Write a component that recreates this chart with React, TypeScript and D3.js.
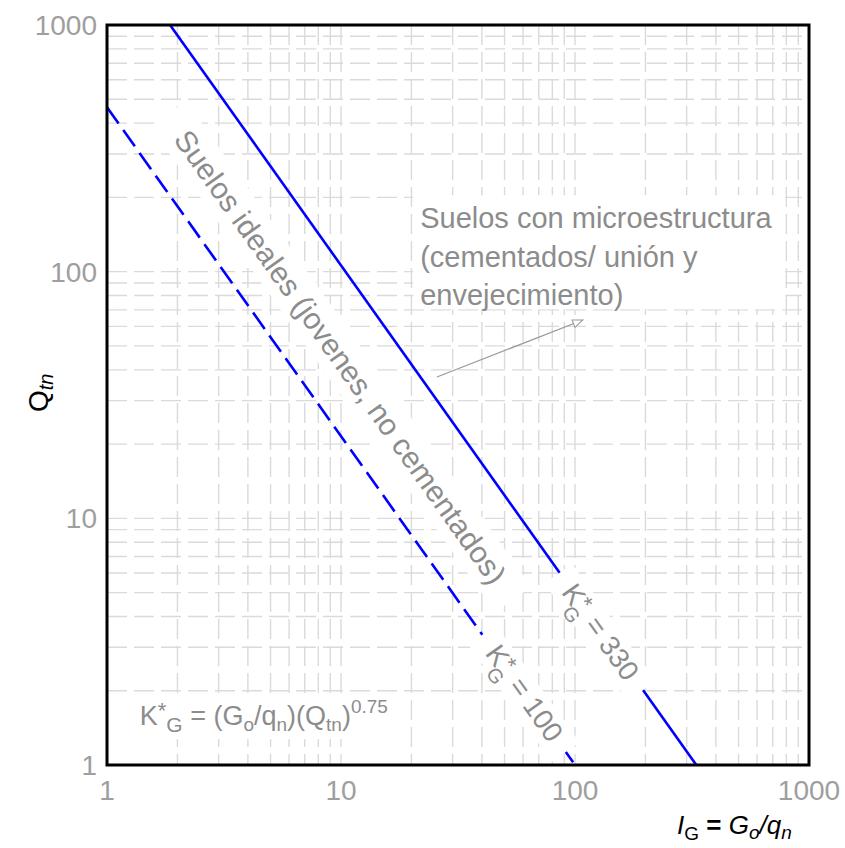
import React from 'react';
import * as d3 from 'd3';

const W = 845;
const H = 848;
const margin = { top: 25, right: 36, bottom: 83, left: 107 };

const X_TICKS = [1, 10, 100, 1000];
const Y_TICKS = [1, 10, 100, 1000];

// KG* lines, [IG, Qtn] end points (straight on log-log)
const K330_LINE: [number, number][] = [[1.86, 1000], [330, 1]];
const K100_LINE: [number, number][] = [[1, 464], [100, 1]];

// label anchors in data units [IG, Qtn]
const K330_LABEL: [number, number] = [128, 3.45];
const K100_LABEL: [number, number] = [60.5, 1.95];
const IDEAL_LABEL: [number, number] = [9.9, 45];
const MICRO_LABEL: [number, number] = [21.8, 150];
const MICRO_LINES = ['Suelos con microestructura', '(cementados/ unión y', 'envejecimiento)'];
const ARROW: [number, number][] = [[25.7, 37.4], [108, 63.7]];
const FORMULA_LABEL: [number, number] = [1.38, 1.45];

const GREY = '#9e9e9e';
const TEXT_GREY = '#8c8c8c';
const GRID = '#dadada';
const FONT = '"Liberation Sans", Arial, sans-serif';
const NARROW = '"Liberation Sans Narrow", "Liberation Sans", Arial, sans-serif';

function App() {
  const iw = W - margin.left - margin.right;
  const ih = H - margin.top - margin.bottom;

  const x = d3.scaleLog().domain([1, 1000]).range([margin.left, margin.left + iw]);
  const y = d3.scaleLog().domain([1, 1000]).range([margin.top + ih, margin.top]);

  const gridX = x.ticks();
  const gridY = y.ticks();

  const line = d3.line<[number, number]>().x(d => x(d[0])).y(d => y(d[1]));

  const angle = Math.atan2(y(K330_LINE[1][1]) - y(K330_LINE[0][1]), x(K330_LINE[1][0]) - x(K330_LINE[0][0])) * 180 / Math.PI;

  const kLabel = (pos: [number, number], val: string) => {
    const cx = x(pos[0]);
    const cy = y(pos[1]);
    return (
      <g transform={`translate(${cx},${cy}) rotate(${angle})`}>
        <rect x={-72} y={-17} width={144} height={34} fill="white" />
        <text x={0} y={9} textAnchor="middle" fontSize={28} fill={TEXT_GREY} fontFamily={FONT}>
          K<tspan dy={-6} fontSize={23}>*</tspan>
          <tspan dx={-11} dy={17} fontSize={20}>G</tspan>
          <tspan dy={-11}>{` = ${val}`}</tspan>
        </text>
      </g>
    );
  };

  const ix = x(IDEAL_LABEL[0]);
  const iy = y(IDEAL_LABEL[1]);
  const mx = x(MICRO_LABEL[0]);
  const my = y(MICRO_LABEL[1]);
  const fx = x(FORMULA_LABEL[0]);
  const fy = y(FORMULA_LABEL[1]);

  return (
    <svg width={W} height={H} style={{ position: 'absolute', left: 0, top: 0, background: 'white' }}>
      <defs>
        <marker id="arr" viewBox="0 0 12 10" refX={11} refY={5} markerWidth={12} markerHeight={10} markerUnits="userSpaceOnUse" orient="auto">
          <path d="M1,1 L11,5 L1,9 Z" fill="white" stroke="#999" strokeWidth={1} />
        </marker>
      </defs>

      {/* grid */}
      <g stroke={GRID} strokeWidth={1.4} strokeDasharray="20,7">
        {gridX.map(v => (
          <line key={'gx' + v} x1={x(v)} x2={x(v)} y1={margin.top} y2={margin.top + ih} />
        ))}
        {gridY.map(v => (
          <line key={'gy' + v} x1={margin.left} x2={margin.left + iw} y1={y(v)} y2={y(v)} />
        ))}
      </g>

      {/* white boxes behind annotations */}
      <rect x={mx - 7} y={my - 33} width={372} height={114} fill="white" />
      <g transform={`translate(${ix},${iy}) rotate(${angle})`}>
        <rect x={-298} y={-23} width={596} height={44} fill="white" />
      </g>
      <rect x={fx - 6} y={fy - 28} width={275} height={42} fill="white" />

      {/* KG* lines */}
      <path d={line(K330_LINE) || ''} fill="none" stroke="#0000ff" strokeWidth={2.6} />
      <path d={line(K100_LINE) || ''} fill="none" stroke="#0000ff" strokeWidth={2.6} strokeDasharray="20,8" />

      {kLabel(K330_LABEL, '330')}
      {kLabel(K100_LABEL, '100')}

      {/* ideal soils label */}
      <text
        transform={`translate(${ix},${iy}) rotate(${angle})`}
        x={0} y={10} textAnchor="middle" fontSize={30} fill={TEXT_GREY} fontFamily={FONT}
      >
        Suelos ideales (jovenes, no cementados)
      </text>

      {/* microstructure label */}
      <text fontSize={29} fill={TEXT_GREY} fontFamily={FONT}>
        {MICRO_LINES.map((t, i) => (
          <tspan key={t} x={mx} y={my + i * 38.5}>{t}</tspan>
        ))}
      </text>
      <path
        d={line(ARROW) || ''}
        stroke="#999" strokeWidth={1.2} fill="none" markerEnd="url(#arr)"
      />

      {/* formula */}
      <text x={fx} y={fy} fontSize={27} fill={TEXT_GREY} fontFamily={FONT}>
        K<tspan dy={-7} fontSize={22}>*</tspan>
        <tspan dy={14} fontSize={21}>G</tspan>
        <tspan dy={-7}>{' = (G'}</tspan>
        <tspan dy={6} fontSize={19}>o</tspan>
        <tspan dy={-6}>/q</tspan>
        <tspan dy={6} fontSize={19}>n</tspan>
        <tspan dy={-6}>)(Q</tspan>
        <tspan dy={6} fontSize={19}>tn</tspan>
        <tspan dy={-6}>)</tspan>
        <tspan dy={-12} fontSize={19}>0.75</tspan>
      </text>

      {/* frame */}
      <rect x={margin.left} y={margin.top} width={iw} height={ih} fill="none" stroke="#000" strokeWidth={3} />

      {/* tick labels */}
      {X_TICKS.map(v => (
        <text key={'xt' + v} x={x(v)} y={margin.top + ih + 35} textAnchor="middle" fontSize={28} fill={GREY} fontFamily={FONT}>
          {v}
        </text>
      ))}
      {Y_TICKS.map(v => (
        <text key={'yt' + v} x={margin.left - 10} y={y(v) + 10} textAnchor="end" fontSize={28} fill={GREY} fontFamily={FONT}>
          {v}
        </text>
      ))}

      {/* axis titles */}
      <text transform={`translate(48,${(margin.top + margin.top + ih) / 2 + 17}) rotate(-90)`} fontSize={28} fontFamily={NARROW} fill="#000">
        Q<tspan dy={5} fontSize={20} fontStyle="italic">tn</tspan>
      </text>
      <text x={677} y={834} fontSize={26} fontFamily={NARROW} fill="#000">
        <tspan fontStyle="italic">I</tspan>
        <tspan dy={6} fontSize={19}>G</tspan>
        <tspan dy={-6} fontWeight="bold">{' = '}</tspan>
        <tspan fontStyle="italic">G</tspan>
        <tspan dy={5} fontSize={19} fontStyle="italic">o</tspan>
        <tspan dy={-5} fontStyle="italic">/q</tspan>
        <tspan dy={5} fontSize={19} fontStyle="italic">n</tspan>
      </text>
    </svg>
  );
}

export default App;
